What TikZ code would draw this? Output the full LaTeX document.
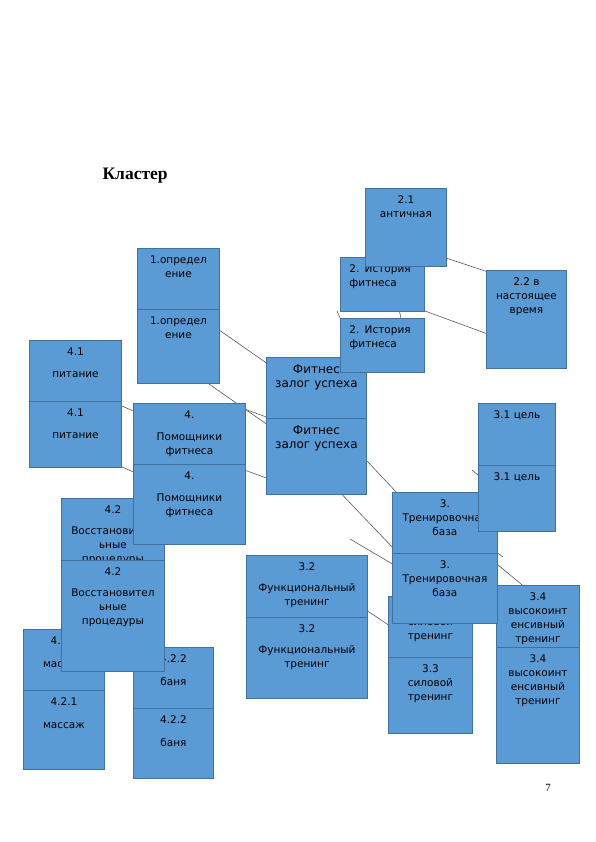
\documentclass[tikz,border=0pt]{standalone}
\usepackage{fontspec}
\newfontfamily\boxfont{DejaVu Sans}
\newfontfamily\headfont{Liberation Serif}
\usetikzlibrary{backgrounds}

\definecolor{boxfill}{HTML}{5B9BD5}
\definecolor{boxline}{HTML}{41719C}
\definecolor{lncol}{HTML}{5A5A5A}

\begin{document}
\begin{tikzpicture}[
      x=1pt, y=-1pt,
      box/.style={draw=boxline, fill=boxfill, line width=0.9pt, inner sep=0pt, anchor=north west,
        align=center, text height=15pt, font=\boxfont\fontsize{10.5}{14}\selectfont},
      big/.style={font=\boxfont\fontsize{12}{14}\selectfont, text height=16pt},
      lnk/.style={draw=lncol, line width=0.6pt}
    ]
      \useasboundingbox (0,0) rectangle (595,842);
      \node[anchor=base west, font=\headfont\bfseries\fontsize{17.5}{20}\selectfont] (title) at (99,180) {Кластер};
      \node[anchor=base, font=\headfont\fontsize{11}{13}\selectfont] (page) at (548,791) {7};

      % 1. definition
      \node[box, text width=82pt, text depth=59pt] (defA) at (137,248) {1.определ\\ение};
      \node[box, text width=82pt, text depth=59pt] (defB) at (137,309) {1.определ\\ение};

      % 4. helpers and their branches
      \node[box, text width=92pt, text depth=51pt] (pitA) at (29,340) {4.1\\[8pt]питание};
      \node[box, text width=92pt, text depth=51pt] (pitB) at (29,401) {4.1\\[8pt]питание};
      \node[box, text width=103pt, text depth=96pt] (recA) at (61,498) {4.2\\[7pt]Восстановител\\ьные\\процедуры};
      \node[box, text width=112pt, text depth=65pt] (helpA) at (133,403) {4.\\[8pt]Помощники\\фитнеса};
      \node[box, text width=112pt, text depth=65pt] (helpB) at (133,464) {4.\\[8pt]Помощники\\фитнеса};
      \node[box, text width=81pt, text depth=64pt] (masA) at (23,629) {4.2.1\\[9pt]массаж};
      \node[box, text width=80pt, text depth=55pt] (banA) at (133,647) {4.2.2\\[9pt]баня};
      \node[box, text width=103pt, text depth=96pt] (recB) at (61,560) {4.2\\[7pt]Восстановител\\ьные\\процедуры};
      \node[box, text width=81pt, text depth=64pt] (masB) at (23,690) {4.2.1\\[9pt]массаж};
      \node[box, text width=80pt, text depth=55pt] (banB) at (133,708) {4.2.2\\[9pt]баня};

      % centre and 2. history
      \node[box, big, text width=100pt, text depth=60pt] (fitA) at (266,357) {Фитнес\\залог успеха};
      \node[box, align=left, inner xsep=9pt, text width=66pt, text depth=39pt] (histA) at (340,257) {2. История\\фитнеса};
      \node[box, text width=81pt, text depth=63pt] (antq) at (365,188) {2.1\\античная};
      \node[box, align=left, inner xsep=9pt, text width=66pt, text depth=39pt] (histB) at (340,318) {2. История\\фитнеса};
      \node[box, big, text width=100pt, text depth=60pt] (fitB) at (266,418) {Фитнес\\залог успеха};
      \node[box, text width=80pt, text depth=83pt] (now) at (486,270) {2.2 в\\настоящее\\время};

      % 3. training base
      \node[box, text width=105pt, text depth=55pt] (baseA) at (392,492) {3.\\Тренировочная\\база};
      \node[box, text width=77pt, text depth=51pt] (goalA) at (478,403) {3.1 цель};
      \node[box, text width=77pt, text depth=51pt] (goalB) at (478,465) {3.1 цель};
      \node[box, text width=84pt, text depth=61pt] (strA) at (388,596) {3.3\\силовой\\тренинг};
      \node[box, text width=83pt, text depth=101pt] (hiitA) at (496,585) {3.4\\высокоинт\\енсивный\\тренинг};
      \node[box, text width=105pt, text depth=55pt] (baseB) at (392,553) {3.\\Тренировочная\\база};
      \node[box, text width=84pt, text depth=61pt] (strB) at (388,657) {3.3\\силовой\\тренинг};
      \node[box, text width=83pt, text depth=101pt] (hiitB) at (496,647) {3.4\\высокоинт\\енсивный\\тренинг};
      \node[box, text width=121pt, text depth=66pt] (funcA) at (246,555) {3.2\\[7pt]Функциональный\\тренинг};
      \node[box, text width=121pt, text depth=66pt] (funcB) at (246,617) {3.2\\[7pt]Функциональный\\тренинг};

      \coordinate (endA) at (350,539);
      \coordinate (endB) at (472,470);
      \coordinate (endC) at (503,557);
      \coordinate (endD) at (337,311);

      \begin{scope}[on background layer]
        \fill[white] (0,0) rectangle (595,842);
        \draw[lnk] (defB.21) -- (fitA.147);
        \draw[lnk] (defB.-51) -- (fitB.147);
        \draw[lnk] (helpA.31) -- (fitA.-157);
        \draw[lnk] (helpB.31) -- (fitB.-157);
        \draw[lnk] (pitA.-35) -- (helpA.150);
        \draw[lnk] (pitB.-35) -- (helpB.150);
        \draw[lnk] (fitB.-5) -- (baseA.144);
        \draw[lnk] (fitB.-56) -- (baseB.143);
        \draw[lnk] (endA) -- (baseB.155);
        \draw[lnk] (endB) -- (goalB.149);
        \draw[lnk] (baseA.-26) -- (endC);
        \draw[lnk] (baseB.24) -- (hiitA.105);
        \draw[lnk] (funcA.-14) -- (strA.167);
        \draw[lnk] (antq.-37) -- (now.130);
        \draw[lnk] (histA.-32) -- (now.-161);
        \draw[lnk] (histA.-58) -- (histB.56);
        \draw[lnk] (endD) -- (histB.north west);
      \end{scope}
    \end{tikzpicture}
\end{document}
